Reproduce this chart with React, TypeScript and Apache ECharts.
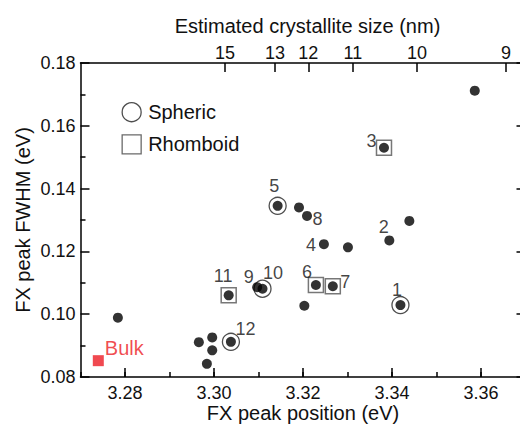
import React, { useEffect, useRef } from "react";
import * as echarts from "echarts";

// ---- data ----
const sampleIds = ["1", "2", "3", "4", "5", "6", "7", "8", "9", "10", "11", "12"];
const sampleX = [3.3419, 3.3394, 3.3382, 3.3247, 3.3143, 3.3229, 3.3267, 3.3209, 3.3097, 3.3109, 3.3033, 3.3038];
const sampleY = [0.1029, 0.1235, 0.153, 0.1223, 0.1345, 0.1093, 0.1089, 0.1313, 0.1086, 0.1081, 0.106, 0.0912];
const sampleShape = ["Spheric", "", "Rhomboid", "", "Spheric", "Rhomboid", "Rhomboid", "", "", "Spheric", "Rhomboid", "Spheric"];

const otherX = [3.3586, 3.3191, 3.3439, 3.3301, 3.3203, 3.2784, 3.2966, 3.2996, 3.2996, 3.2984];
const otherY = [0.1712, 0.134, 0.1297, 0.1213, 0.1027, 0.0989, 0.0911, 0.0926, 0.0885, 0.0842];

const bulkX = [3.274];
const bulkY = [0.0852];

const energyTickLabels = [3.28, 3.3, 3.32, 3.34, 3.36];
const sizeTickLabels = [15, 13, 12, 11, 10, 9];
const sizeTickPositions = [3.3025, 3.3137, 3.3212, 3.3312, 3.3456, 3.3656];

// ---- styling (not data) ----
const labelOffsets: Record<string, [number, number]> = {
  "1": [-3.5, -15],
  "2": [-5.5, -13.5],
  "3": [-12.5, -7],
  "4": [-13, 0.5],
  "5": [-3.5, -20],
  "6": [-9, -12.5],
  "7": [12.5, -4.5],
  "8": [10.5, 3],
  "9": [-8.5, -10.5],
  "10": [10.5, -15.5],
  "11": [-5.5, -19.5],
  "12": [14.5, -12.5],
};

const FONT = "'Liberation Sans', Arial, Helvetica, sans-serif";
const RED = "#ec1c24";
const TEXT = "#111";

export default function App() {
  const ref = useRef<HTMLDivElement>(null);

  useEffect(() => {
    if (!ref.current) return;
    const chart = echarts.init(ref.current, undefined, { renderer: "svg" });

    const sampleData = sampleIds.map((id, i) => ({
      name: id,
      value: [sampleX[i], sampleY[i]],
      label: {
        show: true,
        formatter: id,
        position: "inside",
        offset: labelOffsets[id],
        color: TEXT,
        fontSize: 18,
        fontFamily: FONT,
      },
    }));
    const otherData = otherX.map((x, i) => [x, otherY[i]]);
    const sphericData = sampleIds
      .map((id, i) => (sampleShape[i] === "Spheric" ? [sampleX[i], sampleY[i]] : null))
      .filter((d) => d !== null);
    const rhomboidData = sampleIds
      .map((id, i) => (sampleShape[i] === "Rhomboid" ? [sampleX[i], sampleY[i]] : null))
      .filter((d) => d !== null);

    const axisLineStyle = { color: "#000", width: 1.5 };

    const option: any = {
      animation: false,
      textStyle: { fontFamily: FONT },
      grid: {
        left: 80.5,
        top: 63,
        width: 445,
        height: 314,
        containLabel: false,
        outerBoundsMode: "none",
      },
      legend: {
        orient: "vertical",
        left: 116.5,
        top: 97,
        itemWidth: 19,
        itemHeight: 19,
        itemGap: 12,
        textStyle: { fontSize: 20, fontFamily: FONT, color: TEXT, padding: [0, 0, 0, 2] },
        data: [
          { name: "Spheric", icon: "circle", itemStyle: { color: "transparent", borderColor: "#222", borderWidth: 1.3 } },
          { name: "Rhomboid", icon: "rect", itemStyle: { color: "transparent", borderColor: "#444", borderWidth: 1.3 } },
        ],
        selectedMode: false,
      },
      xAxis: [
        {
          type: "value",
          position: "bottom",
          min: 3.27,
          max: 3.37,
          name: "FX peak position (eV)",
          nameLocation: "middle",
          nameGap: 26,
          nameMoveOverlap: false,
          nameTextStyle: { fontSize: 20, fontFamily: FONT, color: TEXT },
          axisLine: { show: true, onZero: false, lineStyle: axisLineStyle },
          axisTick: { show: true, inside: true, length: 9, lineStyle: axisLineStyle, customValues: energyTickLabels },
          axisLabel: {
            fontSize: 18,
            fontFamily: FONT,
            color: TEXT,
            margin: 7,
            customValues: energyTickLabels,
            formatter: (v: number) => v.toFixed(2),
          },
          splitLine: { show: false },
        },
        {
          type: "value",
          position: "top",
          min: 3.27,
          max: 3.37,
          name: "Estimated crystallite size (nm)",
          nameLocation: "middle",
          nameGap: 27,
          nameMoveOverlap: false,
          nameTextStyle: { fontSize: 20, fontFamily: FONT, color: TEXT, padding: [0, 0, 0, 9] },
          axisLine: { show: true, onZero: false, lineStyle: axisLineStyle },
          axisTick: { show: true, inside: true, length: 9, lineStyle: axisLineStyle, customValues: sizeTickPositions },
          axisLabel: {
            fontSize: 18,
            fontFamily: FONT,
            color: TEXT,
            margin: 1,
            customValues: sizeTickPositions,
            formatter: (v: number) => {
              let best = 0;
              for (let i = 1; i < sizeTickPositions.length; i++) {
                if (Math.abs(sizeTickPositions[i] - v) < Math.abs(sizeTickPositions[best] - v)) best = i;
              }
              return String(sizeTickLabels[best]);
            },
          },
          splitLine: { show: false },
        },
        {
          // minor ticks of the bottom axis (every 0.01 eV)
          type: "value",
          position: "bottom",
          min: 3.27,
          max: 3.37,
          interval: 0.01,
          axisLine: { show: false },
          axisTick: { show: true, inside: true, length: 5, lineStyle: axisLineStyle },
          axisLabel: { show: false },
          splitLine: { show: false },
        },
      ],
      yAxis: [
        {
          type: "value",
          position: "left",
          min: 0.08,
          max: 0.18,
          interval: 0.02,
          name: "FX peak FWHM (eV)",
          nameLocation: "middle",
          nameGap: 48,
          nameMoveOverlap: false,
          nameTextStyle: { fontSize: 20, fontFamily: FONT, color: TEXT },
          axisLine: { show: true, onZero: false, lineStyle: axisLineStyle },
          axisTick: { show: true, inside: true, length: 9, lineStyle: axisLineStyle },
          minorTick: { show: true, splitNumber: 2, length: 5, lineStyle: { color: "#000", width: 1.5 } },
          axisLabel: {
            fontSize: 18,
            fontFamily: FONT,
            color: TEXT,
            margin: 5,
            formatter: (v: number) => v.toFixed(2),
          },
          splitLine: { show: false },
        },
        {
          type: "value",
          position: "right",
          min: 0.08,
          max: 0.18,
          interval: 0.02,
          axisLine: { show: true, onZero: false, lineStyle: axisLineStyle },
          axisTick: { show: true, inside: true, length: 9, lineStyle: axisLineStyle },
          minorTick: { show: true, splitNumber: 2, length: 5, lineStyle: { color: "#aaa", width: 1.2 } },
          axisLabel: { show: false },
          splitLine: { show: false },
        },
      ],
      series: [
        {
          name: "Spheric",
          type: "scatter",
          symbol: "circle",
          symbolSize: 17,
          itemStyle: { color: "transparent", borderColor: "#222", borderWidth: 1.3 },
          data: sphericData,
          z: 2,
        },
        {
          name: "Rhomboid",
          type: "scatter",
          symbol: "rect",
          symbolSize: 15,
          itemStyle: { color: "transparent", borderColor: "#555", borderWidth: 1.5 },
          data: rhomboidData,
          z: 2,
        },
        {
          name: "samples",
          type: "scatter",
          symbol: "circle",
          symbolSize: 10,
          itemStyle: { color: "#000" },
          data: sampleData,
          z: 3,
        },
        {
          name: "others",
          type: "scatter",
          symbol: "circle",
          symbolSize: 10,
          itemStyle: { color: "#000" },
          data: otherData,
          z: 3,
        },
        {
          name: "Bulk",
          type: "scatter",
          symbol: "rect",
          symbolSize: 11,
          itemStyle: { color: RED },
          data: bulkX.map((x, i) => [x, bulkY[i]]),
          label: {
            show: true,
            formatter: "Bulk",
            position: "inside",
            offset: [26, -13],
            color: RED,
            fontSize: 20,
            fontFamily: FONT,
          },
          z: 3,
        },
      ],
    };

    chart.setOption(option);
    return () => chart.dispose();
  }, []);

  return (
    <div
      ref={ref}
      style={{ position: "absolute", left: 0, top: 0, width: 520, height: 425, background: "#fff" }}
    />
  );
}
